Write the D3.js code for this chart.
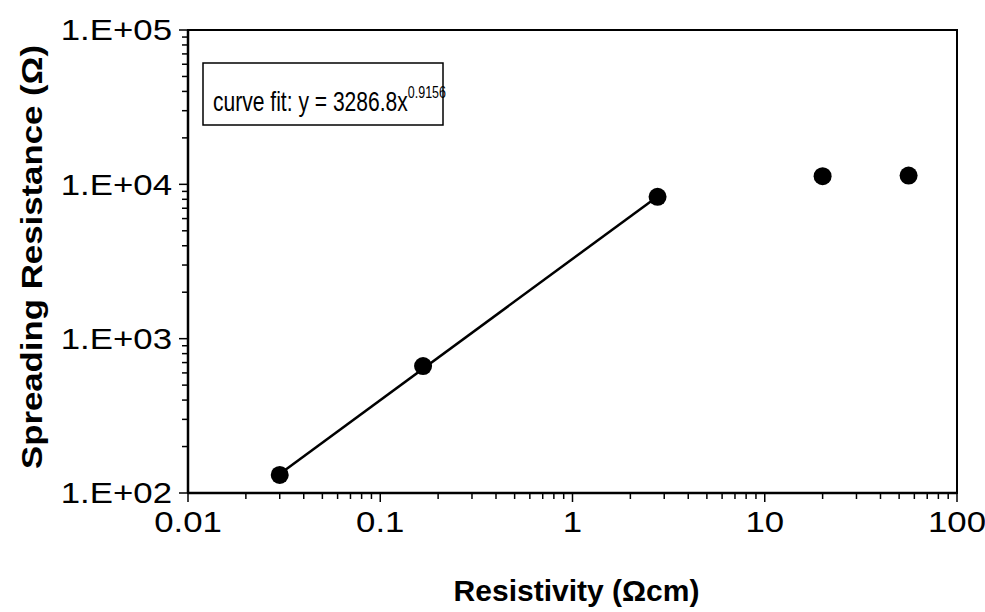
<!DOCTYPE html>
<html>
<head>
<meta charset="utf-8">
<script src="https://cdn.jsdelivr.net/npm/d3@7"></script>
<style>
  body { margin: 0; background: #fff; }
  svg { font-family: "Liberation Sans", Arial, sans-serif; }
</style>
</head>
<body>
<script>
// measured points (resistivity in ohm-cm, spreading resistance in ohm)
const resistivity = [0.03, 0.167, 2.77, 20.0, 56.0];
const spreading = [131, 665, 8300, 11300, 11400];

// power-law fit drawn over the first three points
const fitCoef = 3286.8;
const fitExp = 0.9156;
const fitRange = [0.03, 2.77];

const xTicks = [0.01, 0.1, 1, 10, 100];
const xTickLabels = ['0.01', '0.1', '1', '10', '100'];
const yTicks = [1e2, 1e3, 1e4, 1e5];
const yTickLabels = ['1.E+02', '1.E+03', '1.E+04', '1.E+05'];

const width = 985;
const height = 612;
const margin = { top: 30, right: 28, bottom: 119, left: 188 };
const stretch = 1.2; // the scanned labels are wider than Arial

const svg = d3.select('body')
    .append('svg')
    .attr('width', width)
    .attr('height', height);

const xScale = d3.scaleLog()
    .domain([0.01, 100])
    .range([margin.left, width - margin.right]);

const yScale = d3.scaleLog()
    .domain([100, 1e5])
    .range([height - margin.bottom, margin.top]);

// minor ticks for each decade
const xMinor = [];
for (let d = 0.01; d < 100; d *= 10) {
    for (let k = 2; k <= 9; k++) xMinor.push(+(d * k).toPrecision(3));
}
const yMinor = [];
for (let d = 100; d < 1e5; d *= 10) {
    for (let k = 2; k <= 9; k++) yMinor.push(d * k);
}

// plot frame
svg.append('rect')
    .attr('x', margin.left)
    .attr('y', margin.top)
    .attr('width', width - margin.left - margin.right)
    .attr('height', height - margin.top - margin.bottom)
    .attr('fill', 'none')
    .attr('stroke', '#000')
    .attr('stroke-width', 2);

const xAxis = svg.append('g')
    .attr('transform', 'translate(0,' + (height - margin.bottom) + ')');

xAxis.append('line')
    .attr('x1', margin.left).attr('x2', width - margin.right)
    .attr('stroke', '#000').attr('stroke-width', 2.5);

xAxis.selectAll('.minor')
    .data(xMinor)
    .enter()
    .append('line')
    .attr('class', 'minor')
    .attr('x1', (d) => xScale(d)).attr('x2', (d) => xScale(d))
    .attr('y1', 0).attr('y2', 6)
    .attr('stroke', '#000').attr('stroke-width', 1.5);

xAxis.selectAll('.major')
    .data(xTicks)
    .enter()
    .append('line')
    .attr('class', 'major')
    .attr('x1', (d) => xScale(d)).attr('x2', (d) => xScale(d))
    .attr('y1', 0).attr('y2', 9)
    .attr('stroke', '#000').attr('stroke-width', 1.5);

xAxis.selectAll('text')
    .data(xTicks)
    .enter()
    .append('text')
    .attr('transform', (d) => 'translate(' + xScale(d) + ',39) scale(' + stretch + ',1)')
    .attr('text-anchor', 'middle')
    .style('font-size', '29px')
    .text((d, i) => xTickLabels[i]);

const yAxis = svg.append('g')
    .attr('transform', 'translate(' + margin.left + ',0)');

yAxis.append('line')
    .attr('y1', margin.top).attr('y2', height - margin.bottom)
    .attr('stroke', '#000').attr('stroke-width', 2.5);

yAxis.selectAll('.minor')
    .data(yMinor)
    .enter()
    .append('line')
    .attr('class', 'minor')
    .attr('y1', (d) => yScale(d)).attr('y2', (d) => yScale(d))
    .attr('x1', 0).attr('x2', -6)
    .attr('stroke', '#000').attr('stroke-width', 1.5);

yAxis.selectAll('.major')
    .data(yTicks)
    .enter()
    .append('line')
    .attr('class', 'major')
    .attr('y1', (d) => yScale(d)).attr('y2', (d) => yScale(d))
    .attr('x1', 0).attr('x2', -9)
    .attr('stroke', '#000').attr('stroke-width', 1.5);

yAxis.selectAll('text')
    .data(yTicks)
    .enter()
    .append('text')
    .attr('transform', (d) => 'translate(-16,' + yScale(d) + ') scale(' + stretch + ',1)')
    .attr('dy', '0.36em')
    .attr('text-anchor', 'end')
    .style('font-size', '29px')
    .text((d, i) => yTickLabels[i]);

// axis titles
svg.append('text')
    .attr('x', (margin.left + width - margin.right) / 2 + 4)
    .attr('y', 601)
    .attr('text-anchor', 'middle')
    .style('font-size', '30px')
    .style('font-weight', 'bold')
    .text('Resistivity (\u03A9cm)');

svg.append('text')
    .attr('transform', 'translate(42,257) rotate(-90) scale(1.16,1)')
    .attr('text-anchor', 'middle')
    .style('font-size', '30px')
    .style('font-weight', 'bold')
    .text('Spreading Resistance  (\u03A9)');

// fit line
const fitLine = d3.line()
    .x((d) => xScale(d))
    .y((d) => yScale(fitCoef * Math.pow(d, fitExp)));

svg.append('path')
    .datum(fitRange)
    .attr('d', fitLine)
    .attr('fill', 'none')
    .attr('stroke', '#000')
    .attr('stroke-width', 2.5);

// data points
svg.selectAll('circle')
    .data(resistivity)
    .enter()
    .append('circle')
    .attr('cx', (d) => xScale(d))
    .attr('cy', (d, i) => yScale(spreading[i]))
    .attr('r', 9)
    .attr('fill', '#000');

// legend box with fit equation
const legend = svg.append('g');

legend.append('rect')
    .attr('x', 203)
    .attr('y', 63)
    .attr('width', 240)
    .attr('height', 62)
    .attr('fill', '#fff')
    .attr('stroke', '#000')
    .attr('stroke-width', 1.5);

const eq = legend.append('text')
    .attr('transform', 'translate(213,111) scale(0.78,1)')
    .style('font-size', '27px');

eq.append('tspan').text('curve fit: y = ' + fitCoef + 'x');
eq.append('tspan')
    .attr('dy', -13)
    .style('font-size', '16px')
    .text(fitExp);
</script>
</body>
</html>
